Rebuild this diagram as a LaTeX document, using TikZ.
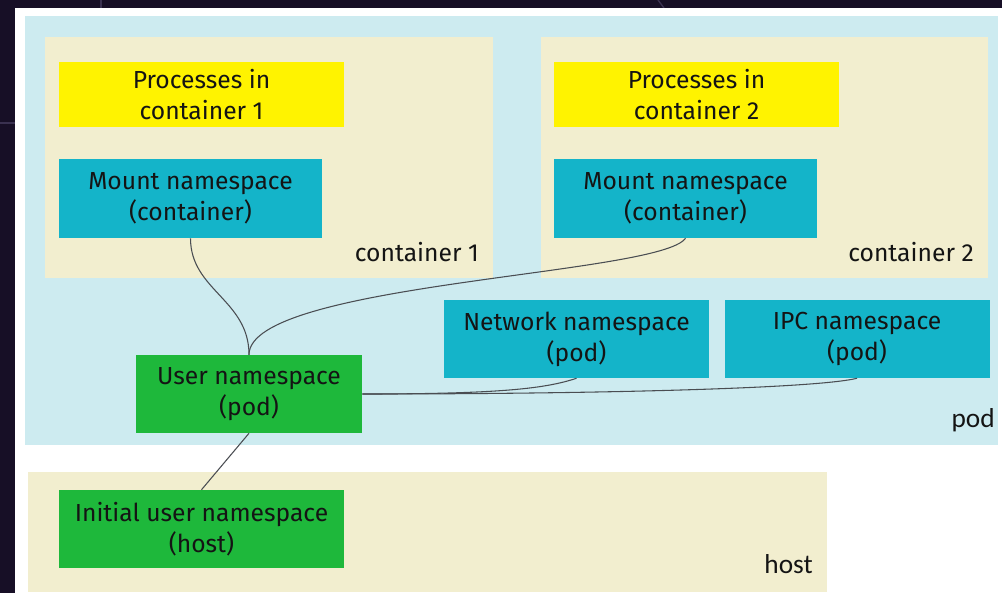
\documentclass[tikz,border=0pt]{standalone}
\usepackage{fontspec}
\setmainfont{Fira Sans}
\newfontfamily\lblfont{Carlito}
\definecolor{darkbg}{HTML}{170F26}
\definecolor{faintln}{HTML}{3A3150}
\definecolor{podbg}{HTML}{CDEBF0}
\definecolor{beige}{HTML}{F2EECF}
\definecolor{yel}{HTML}{FFF300}
\definecolor{teal}{HTML}{14B4C9}
\definecolor{grn}{HTML}{1EB83B}
\definecolor{txt}{HTML}{141414}
\definecolor{conn}{HTML}{4A4D52}
\tikzset{
  nsbox/.style={rectangle, inner sep=0pt, align=center, text=txt,
    font=\fontsize{18.5}{23.25}\selectfont},
  procbox/.style={nsbox, fill=yel, minimum width=213.75pt, minimum height=48.75pt},
  mntbox/.style={nsbox, fill=teal, minimum width=197.25pt, minimum height=59.25pt},
  podbox/.style={nsbox, fill=teal, minimum width=198.75pt, minimum height=58.5pt},
  userbox/.style={nsbox, fill=grn, minimum height=58.5pt},
  regionlbl/.style={inner sep=0pt, text=txt, anchor=east, font=\fontsize{18.5}{20}\selectfont},
  hostlbl/.style={inner sep=0pt, text=txt, anchor=base east, font=\lblfont\fontsize{20.5}{22}\selectfont},
  link/.style={draw=conn, line width=0.8pt},
  faint/.style={draw=faintln, line width=1pt}
}
\begin{document}
\begin{tikzpicture}[x=0.75pt, y=-0.75pt]
\useasboundingbox (0,0) rectangle (1002,593);
% backgrounds
\fill[darkbg] (0,0) rectangle (1002,593);
\draw[faint] (101,0) -- (101,8);
\draw[faint] (0,123) -- (15,123);
\draw[faint] (658,0) -- (664,8);
\fill[white] (15,8) rectangle (1002,593);
% regions
\fill[podbg] (25,16) rectangle (998,445);
\fill[beige] (45,37) rectangle (493,278);
\fill[beige] (541,37) rectangle (988,278);
\fill[beige] (28,472) rectangle (827,592);
% region labels
\node[regionlbl] (lc1) at (479,252) {container 1};
\node[regionlbl] (lc2) at (974,252) {container 2};
\node[hostlbl] (lpod) at (995,427) {pod};
\node[hostlbl] (lhost) at (813,573) {host};
% boxes
\node[procbox] (proc1) at (201.5,94.5) {Processes in\\container 1};
\node[procbox] (proc2) at (696.5,94.5) {Processes in\\container 2};
\node[mntbox] (mnt1) at (190.5,198.5) {Mount namespace\\(container)};
\node[mntbox] (mnt2) at (685.5,198.5) {Mount namespace\\(container)};
\node[podbox] (net) at (576.5,339) {Network namespace\\(pod)};
\node[podbox] (ipc) at (857,339) {IPC namespace\\(pod)};
\node[userbox, minimum width=169.5pt] (user) at (249,394) {User namespace\\(pod)};
\node[userbox, minimum width=213.75pt] (init) at (201.5,529) {Initial user namespace\\(host)};
% connectors
\draw[link] (mnt1.south) .. controls +(0,52) and +(0,-55) .. (user.north);
\draw[link] (mnt2.south) .. controls +(-26,37) and +(0,-72) .. (user.north);
\draw[link] (user.east) .. controls +(140,0) and +(-30,10) .. (net.south);
\draw[link] (user.east) .. controls +(240,0) and +(-40,10) .. (ipc.south);
\draw[link] (user.south) -- (init.north);
\end{tikzpicture}
\end{document}
